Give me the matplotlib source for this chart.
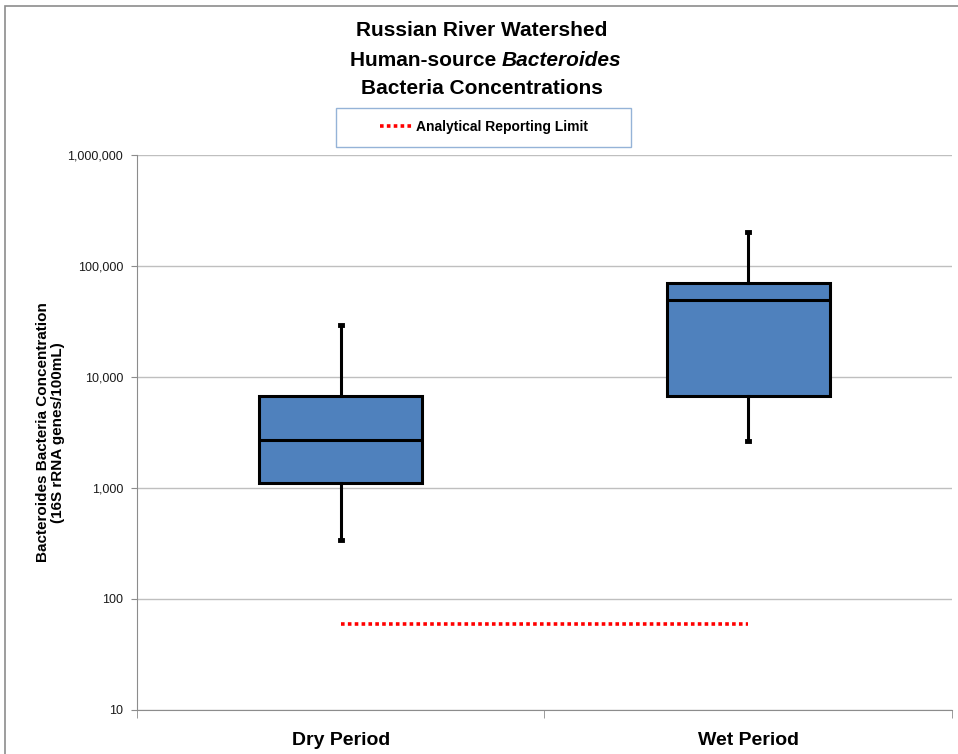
import matplotlib
matplotlib.use('Agg')
import matplotlib.pyplot as plt
from matplotlib import font_manager
from matplotlib.patches import Rectangle
from matplotlib.ticker import FixedLocator, FuncFormatter

# pick a narrow font if there is one
names = {f.name for f in font_manager.fontManager.ttflist}
family = 'Liberation Sans Narrow' if 'Liberation Sans Narrow' in names else 'Liberation Sans'
plt.rcParams['font.family'] = [family, 'DejaVu Sans']

# data
periods = ['Dry Period', 'Wet Period']
whisker_low = [340, 2650]
q1 = [1120, 6800]
median = [2700, 49000]
q3 = [6800, 71000]
whisker_high = [29500, 202000]
reporting_limit = 60

box_color = '#4F81BD'

fig = plt.figure(figsize=(9.58, 7.54), dpi=100)
ax = fig.add_axes([0.143, 0.0584, 0.8507, 0.736])

stats = []
for i, name in enumerate(periods):
    stats.append({'label': name, 'whislo': whisker_low[i], 'q1': q1[i], 'med': median[i],
                  'q3': q3[i], 'whishi': whisker_high[i]})

ax.bxp(stats, positions=[1, 2], widths=0.4, patch_artist=True, showfliers=False,
       boxprops=dict(facecolor=box_color, edgecolor='black', linewidth=2.2),
       medianprops=dict(color='black', linewidth=2.2),
       whiskerprops=dict(color='black', linewidth=2.2),
       capprops=dict(color='black', linewidth=3.5), capwidths=0.005, zorder=3)

# reporting limit line
rl, = ax.plot([1, 2], [reporting_limit, reporting_limit], color='red', linestyle=(0, (1, 0.9)),
              linewidth=2.6, zorder=3)

ax.set_yscale('log')
ax.set_ylim(10, 1000000)
ax.set_xlim(0.5, 2.5)
ax.yaxis.set_major_locator(FixedLocator([10, 100, 1000, 10000, 100000, 1000000]))
ax.yaxis.set_minor_locator(FixedLocator([]))
ax.yaxis.set_major_formatter(FuncFormatter(lambda v, p: f'{int(v):,}'))
ax.grid(axis='y', color='#bfbfbf', linewidth=1.0, zorder=0)
ax.set_axisbelow(True)

for s in ['top', 'right']:
    ax.spines[s].set_visible(False)
ax.spines['left'].set_color('#8c8c8c')
ax.spines['bottom'].set_color('#8c8c8c')

ax.tick_params(axis='y', labelsize=9, colors='#8c8c8c', labelcolor='#1a1a1a', length=4, pad=6)
ax.set_xticks([1, 2])
ax.set_xticklabels(periods, fontsize=14, fontweight='bold')
ax.set_xticks([0.5, 1.5, 2.5], minor=True)
ax.tick_params(axis='x', which='major', length=0, pad=16)
ax.tick_params(axis='x', which='minor', length=6, colors='#8c8c8c')

ax.set_ylabel('Bacteroides Bacteria Concentration\n(16S rRNA genes/100mL)', fontsize=11,
              fontweight='bold', linespacing=1.15)
ax.yaxis.set_label_coords(-0.088, 0.5)

# title, middle line has an italic word
fig.text(0.503, 0.960, 'Russian River Watershed', ha='center', va='center', fontsize=15, fontweight='bold')
t1 = fig.text(0.365, 0.920, 'Human-source ', ha='left', va='center', fontsize=15, fontweight='bold')
ax.annotate('Bacteroides', xy=(1, 0), xycoords=t1, ha='left', va='bottom', fontsize=15,
            fontweight='bold', fontstyle='italic', annotation_clip=False)
fig.text(0.503, 0.883, 'Bacteria Concentrations', ha='center', va='center', fontsize=15, fontweight='bold')

# legend with a box drawn round it
leg = fig.legend([rl], ['Analytical Reporting Limit'], loc='center', bbox_to_anchor=(0.505, 0.832),
                 frameon=False, handlelength=2.4, handletextpad=0.2,
                 prop={'size': 10, 'weight': 'bold'})
fig.patches.append(Rectangle((336 / 958, 1 - 147 / 754), 295 / 958, 39 / 754, transform=fig.transFigure,
                             fill=False, edgecolor='#95B3D7', linewidth=1.0))

# outer frame
fig.patches.append(Rectangle((0.005, -0.1), 1.1, 1.092, transform=fig.transFigure,
                             fill=False, edgecolor='#8c8c8c', linewidth=1.2))

fig.savefig('out.png', dpi=100)
